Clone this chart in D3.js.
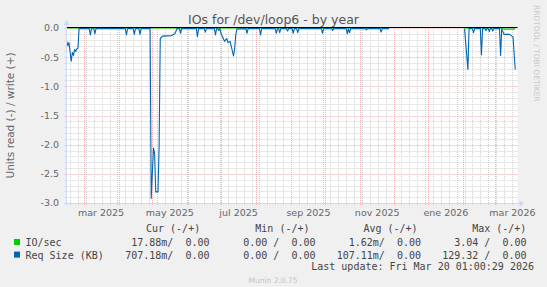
<!DOCTYPE html>
<html>
<head>
<meta charset="utf-8">
<script src="https://cdn.jsdelivr.net/npm/d3@7"></script>
<style>
body { margin: 0; background: #f0f0f0; }
text { font-family: "DejaVu Sans", sans-serif; }
.mono { font-family: "DejaVu Sans Mono", monospace; }
</style>
</head>
<body>
<div id="chart"></div>
<script>
// time span shown: 400 days
var rangeStart = "2025-02-14",
    rangeDays = 400;

// Req Size (KB), read side (drawn negative)
var reqDates = ["2025-02-14","2025-02-15","2025-02-16","2025-02-18","2025-02-19","2025-02-20","2025-02-21","2025-02-22","2025-02-23","2025-02-24","2025-02-25",
  "2025-03-06","2025-03-07","2025-03-08","2025-03-10","2025-03-11","2025-03-12",
  "2025-04-07","2025-04-08","2025-04-09","2025-04-14","2025-04-15","2025-04-16","2025-04-19","2025-04-20","2025-04-21",
  "2025-04-29","2025-04-30","2025-05-02","2025-05-03","2025-05-04","2025-05-06","2025-05-07","2025-05-08","2025-05-10","2025-05-18","2025-05-21","2025-05-23",
  "2025-05-25","2025-05-26","2025-05-27","2025-06-09","2025-06-10","2025-06-11","2025-06-16","2025-06-17","2025-06-18",
  "2025-06-25","2025-06-26","2025-06-27","2025-06-28","2025-06-29","2025-06-30",
  "2025-07-01","2025-07-03","2025-07-04","2025-07-06","2025-07-07","2025-07-09","2025-07-10","2025-07-12","2025-07-13","2025-07-14","2025-07-15",
  "2025-07-23","2025-07-24","2025-07-25","2025-08-04","2025-08-05","2025-08-06","2025-08-18","2025-08-19","2025-08-20",
  "2025-08-21","2025-08-22","2025-08-23","2025-08-28","2025-08-29","2025-08-30","2025-09-02","2025-09-03","2025-09-04",
  "2025-09-06","2025-09-07","2025-09-08","2025-09-28","2025-09-29","2025-09-30","2025-10-07","2025-10-08","2025-10-09",
  "2025-10-20","2025-10-21","2025-10-22","2025-10-23","2025-10-24","2025-11-06","2025-11-07","2025-11-08",
  "2025-11-19","2025-11-20","2025-11-21","2025-11-27","2025-12-15",
  "2026-02-02","2026-02-05","2026-02-06","2026-02-09","2026-02-10","2026-02-11","2026-02-16","2026-02-17","2026-02-18",
  "2026-02-20","2026-02-21","2026-02-22","2026-02-23","2026-02-24","2026-02-25","2026-02-26","2026-02-27","2026-02-28",
  "2026-03-05","2026-03-06","2026-03-07","2026-03-09","2026-03-14","2026-03-16","2026-03-17","2026-03-19"];
var reqRead = [-0.23,-0.30,-0.25,-0.57,-0.42,-0.47,-0.37,-0.40,-0.36,-0.34,-0.01,
  -0.01,-0.12,-0.01,-0.01,-0.10,-0.01,
  -0.01,-0.12,-0.01,-0.01,-0.11,-0.01,-0.01,-0.11,-0.01,
  -0.01,-2.92,-2.06,-2.15,-2.81,-2.81,-2.03,-0.18,-0.14,-0.13,-0.10,-0.01,
  -0.01,-0.09,-0.01,-0.01,-0.15,-0.01,-0.01,-0.07,-0.01,
  -0.01,-0.12,-0.01,-0.01,-0.04,-0.01,
  -0.10,-0.18,-0.23,-0.18,-0.25,-0.23,-0.31,-0.48,-0.36,-0.12,-0.02,
  -0.01,-0.09,-0.01,-0.01,-0.12,-0.01,-0.01,-0.09,-0.01,
  -0.01,-0.08,-0.01,-0.01,-0.05,-0.01,-0.01,-0.09,-0.01,
  -0.01,-0.08,-0.01,-0.01,-0.09,-0.01,-0.01,-0.04,-0.01,
  -0.01,-0.10,-0.01,-0.08,-0.01,-0.01,-0.03,-0.01,
  -0.01,-0.07,-0.01,-0.01,null,
  -0.01,-0.71,-0.01,-0.01,-0.08,-0.01,-0.01,-0.46,-0.01,
  -0.01,-0.04,-0.01,-0.01,-0.06,-0.01,-0.01,-0.05,-0.01,
  -0.01,-0.47,-0.01,-0.11,-0.11,-0.14,-0.15,-0.71];

// IO/sec, read side
var ioDates = ["2025-02-14","2025-11-27","2025-12-15","2026-02-02","2026-03-07","2026-03-09","2026-03-19"];
var ioRead = [0,0,null,0,0,-0.02,-0.02];

var yTicks = [0, -0.5, -1, -1.5, -2, -2.5, -3];
var monthLabels = ["mar 2025","may 2025","jul 2025","sep 2025","nov 2025","ene 2026","mar 2026"];
var monthStarts = ["2025-03-01","2025-05-01","2025-07-01","2025-09-01","2025-11-01","2026-01-01","2026-03-01"];

var seriesNames = ["IO/sec", "Req Size (KB)"];
var seriesColors = ["#00cc00", "#0066b3"];
var legendCols = ["Cur (-/+)", "Min (-/+)", "Avg (-/+)", "Max (-/+)"];
var legendCur = ["17.88m/  0.00", "707.18m/  0.00"];
var legendMin = ["0.00 /  0.00", "0.00 /  0.00"];
var legendAvg = ["1.62m/  0.00", "107.11m/  0.00"];
var legendMax = ["3.04 /  0.00", "129.32 /  0.00"];
var lastUpdate = "Last update: Fri Mar 20 01:00:29 2026";

var width = 547, height = 287;
var pLeft = 66.5, pRight = 517.5, pTop = 28, pBottom = 203;
var parse = d3.timeParse("%Y-%m-%d");

var svg = d3.select("#chart").append("svg")
    .attr("width", width)
    .attr("height", height)
    .style("display", "block");

svg.append("rect").attr("width", width).attr("height", height).attr("fill", "#f0f0f0");

var t0 = parse(rangeStart);
var x = d3.scaleTime()
    .domain([t0, d3.timeDay.offset(t0, rangeDays)])
    .range([pLeft + 0.2, pRight]);
var y = d3.scaleLinear().domain([-3, 0]).range([pBottom, pTop]);

// canvas
svg.append("rect")
    .attr("x", pLeft).attr("y", pTop)
    .attr("width", pRight - pLeft).attr("height", pBottom - pTop)
    .attr("fill", "#ffffff");

var grid = svg.append("g");
var minorColor = "#d2d2d2", majorColor = "#eeb0b0";

// minor horizontal grid every 0.1
d3.range(-30, 1).forEach(function(i) {
    if (i % 5 === 0) return;
    var py = Math.round(y(i / 10)) + 0.5;
    grid.append("line").attr("x1", pLeft - 2).attr("x2", pRight).attr("y1", py).attr("y2", py)
        .attr("stroke", minorColor).attr("stroke-dasharray", "1,1");
});
// minor vertical grid, weekly
x.ticks(d3.timeMonday).forEach(function(d) {
    var px = Math.round(x(d)) + 0.5;
    grid.append("line").attr("x1", px).attr("x2", px).attr("y1", pTop).attr("y2", pBottom + 2)
        .attr("stroke", minorColor).attr("stroke-dasharray", "1,1");
});
// major horizontal grid
yTicks.forEach(function(v) {
    var py = Math.round(y(v)) + 0.5;
    grid.append("line").attr("x1", pLeft - 2).attr("x2", pRight).attr("y1", py).attr("y2", py)
        .attr("stroke", majorColor).attr("stroke-dasharray", "1,1");
});
// major vertical grid, monthly
x.ticks(d3.timeMonth).forEach(function(d) {
    var px = Math.round(x(d)) + 0.5;
    grid.append("line").attr("x1", px).attr("x2", px).attr("y1", pTop).attr("y2", pBottom + 3)
        .attr("stroke", majorColor).attr("stroke-dasharray", "1,1");
});

function series(dates, vals) {
    return dates.map(function(d, i) { return {t: parse(d), v: vals[i]}; });
}

var line = d3.line()
    .defined(function(d) { return d.v !== null; })
    .x(function(d) { return x(d.t); })
    .y(function(d) { return y(d.v); });

svg.append("path").datum(series(ioDates, ioRead))
    .attr("d", line).attr("fill", "none")
    .attr("stroke", seriesColors[0]).attr("stroke-width", 1.1);

svg.append("path").datum(series(reqDates, reqRead))
    .attr("d", line).attr("fill", "none")
    .attr("stroke", seriesColors[1]).attr("stroke-width", 1.1)
    .attr("stroke-linejoin", "round");

// zero line
svg.append("line")
    .attr("x1", pLeft).attr("x2", pRight)
    .attr("y1", Math.round(y(0)) - 0.5).attr("y2", Math.round(y(0)) - 0.5)
    .attr("stroke", "#000").attr("stroke-width", 1);

// axes
var axisColor = "#cfd6f8";
svg.append("line").attr("x1", pLeft).attr("x2", pLeft).attr("y1", pBottom + 2).attr("y2", pTop - 5)
    .attr("stroke", axisColor);
svg.append("line").attr("x1", pLeft - 2).attr("x2", pRight + 3).attr("y1", pBottom + 0.5).attr("y2", pBottom + 0.5)
    .attr("stroke", axisColor);
svg.append("path").attr("d", "M" + (pLeft - 3) + "," + (pTop - 3) + "L" + (pLeft + 3) + "," + (pTop - 3) + "L" + pLeft + "," + (pTop - 8) + "Z")
    .attr("fill", axisColor);
svg.append("path").attr("d", "M" + (pRight + 2) + "," + (pBottom - 2.5) + "L" + (pRight + 2) + "," + (pBottom + 3.5) + "L" + (pRight + 7) + "," + (pBottom + 0.5) + "Z")
    .attr("fill", axisColor);

// y tick labels
svg.append("g").selectAll("text").data(yTicks).enter().append("text")
    .attr("x", 59).attr("y", function(d) { return y(d); })
    .attr("dy", "0.36em")
    .attr("text-anchor", "end")
    .attr("font-size", "9.5px").attr("fill", "#666")
    .text(function(d) { return d3.format(".1f")(d).replace("−", "-"); });

// x tick labels, centred mid-month
svg.append("g").selectAll("text").data(monthLabels).enter().append("text")
    .attr("x", function(d, i) { return x(d3.timeHour.offset(parse(monthStarts[i]), 15.5 * 24)); })
    .attr("y", 216)
    .attr("text-anchor", "middle")
    .attr("font-size", "9.5px").attr("fill", "#666")
    .text(function(d) { return d; });

// title
svg.append("text").attr("x", 273.5).attr("y", 24.3).attr("text-anchor", "middle")
    .attr("font-size", "12.5px").attr("fill", "#555")
    .text("IOs for /dev/loop6 - by year");

// vertical label
svg.append("text")
    .attr("transform", "translate(14," + ((pTop + pBottom) / 2) + ") rotate(-90)")
    .attr("text-anchor", "middle")
    .attr("font-size", "10.5px").attr("fill", "#666")
    .text("Units read (-) / write (+)");

// watermark
svg.append("text")
    .attr("transform", "translate(534,5) rotate(90)")
    .attr("font-size", "7.5px").attr("fill", "#c8c8c8")
    .text("RRDTOOL / TOBI OETIKER");

// legend
var lg = svg.append("g").attr("class", "mono").attr("font-size", "10px").attr("fill", "#444");
var headX = [146, 255.3, 363.4, 472.2];
legendCols.forEach(function(c, i) {
    lg.append("text").attr("class", "mono").attr("x", headX[i]).attr("y", 232).text(c);
});
var rowY = [246, 258.6];
var colEnd = [209.5, 315.5, 421, 526.5];
var cols = [legendCur, legendMin, legendAvg, legendMax];
seriesNames.forEach(function(n, r) {
    lg.append("rect").attr("x", 14).attr("y", rowY[r] - 7).attr("width", 6).attr("height", 6)
        .attr("fill", seriesColors[r]);
    lg.append("text").attr("class", "mono").attr("x", 25.5).attr("y", rowY[r]).text(n);
    cols.forEach(function(col, c) {
        lg.append("text").attr("class", "mono").attr("x", colEnd[c]).attr("y", rowY[r])
            .attr("text-anchor", "end")
            .style("white-space", "pre").text(col[r]);
    });
});
lg.append("text").attr("class", "mono").attr("x", 534).attr("y", 270.3)
    .attr("text-anchor", "end").text(lastUpdate);

svg.append("text").attr("x", 273).attr("y", 283).attr("text-anchor", "middle")
    .attr("font-size", "7.5px").attr("fill", "#c4c4c4")
    .text("Munin 2.0.75");
</script>
</body>
</html>
